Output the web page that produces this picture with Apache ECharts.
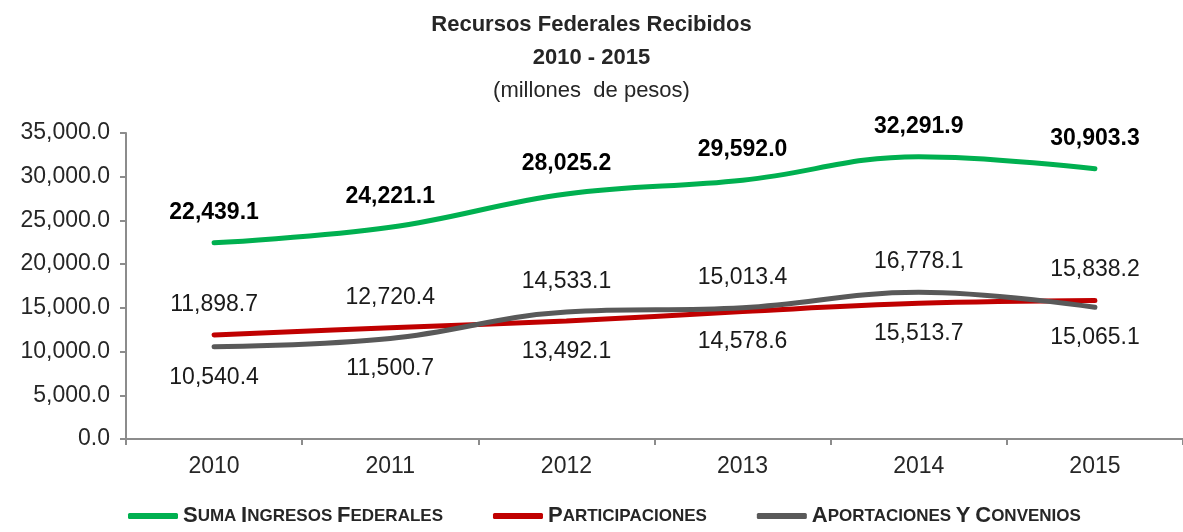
<!DOCTYPE html>
<html>
<head>
<meta charset="utf-8">
<script src="https://cdn.jsdelivr.net/npm/echarts@6/dist/echarts.min.js"></script>
<style>
  html, body { margin: 0; padding: 0; background: #fff; }
  #main { width: 1183px; height: 532px; }
</style>
</head>
<body>
<div id="main"></div>
<script>
// datos del grafico
var years = ["2010", "2011", "2012", "2013", "2014", "2015"];
var suma = [22439.1, 24221.1, 28025.2, 29592.0, 32291.9, 30903.3];
var participaciones = [11898.7, 12720.4, 13492.1, 14578.6, 15513.7, 15838.2];
var aportaciones = [10540.4, 11500.7, 14533.1, 15013.4, 16778.1, 15065.1];
var seriesNames = ["Suma Ingresos Federales", "Participaciones", "Aportaciones y Convenios"];

var chart = echarts.init(document.getElementById("main"));

function fmt(v) {
  return Number(v).toLocaleString("en-US", { minimumFractionDigits: 1, maximumFractionDigits: 1 });
}

// small caps para la leyenda
function smallCaps(name) {
  return name.split(" ").map(function (w) {
    if (w.length === 1) return "{c|" + w.toUpperCase() + "}";
    return "{c|" + w[0].toUpperCase() + "}{s|" + w.slice(1).toUpperCase() + "}";
  }).join("{s| }");
}

// etiqueta arriba o abajo segun la otra serie
function labeled(values, other) {
  return values.map(function (v, i) {
    return { value: v, label: { position: v >= other[i] ? "top" : "bottom" } };
  });
}

var labelFont = {
  show: true,
  fontFamily: "Liberation Sans",
  fontSize: 23,
  color: "#1a1a1a",
  distance: 19,
  formatter: function (p) { return fmt(p.value); }
};

var option = {
  backgroundColor: "#fff",
  animation: false,
  title: {
    left: "center",
    top: 3,
    text: "{b|Recursos Federales Recibidos}\n{b|2010 - 2015}\n{n|(millones  de pesos)}",
    textStyle: {
      rich: {
        b: { fontFamily: "Liberation Sans", fontWeight: "bold", fontSize: 22, color: "#262626", lineHeight: 33 },
        n: { fontFamily: "Liberation Sans", fontWeight: "normal", fontSize: 22, color: "#262626", lineHeight: 34 }
      }
    }
  },
  legend: {
    left: 123,
    bottom: 0,
    itemWidth: 50,
    itemHeight: 6,
    itemGap: 50,
    icon: "roundRect",
    data: seriesNames,
    formatter: smallCaps,
    textStyle: {
      rich: {
        c: { fontFamily: "Liberation Sans", fontWeight: "bold", fontSize: 22, color: "#262626" },
        s: { fontFamily: "Liberation Sans", fontWeight: "bold", fontSize: 17, color: "#262626" }
      }
    }
  },
  grid: {
    left: 126,
    top: 133,
    width: 1060,
    height: 306
  },
  xAxis: {
    type: "category",
    data: years,
    boundaryGap: true,
    axisLine: { lineStyle: { color: "#8c8c8c", width: 2 } },
    axisTick: { show: true, length: 6, lineStyle: { color: "#8c8c8c", width: 2 } },
    axisLabel: { fontFamily: "Liberation Sans", fontSize: 23, color: "#262626", margin: 16 }
  },
  yAxis: {
    type: "value",
    min: 0,
    max: 35000,
    interval: 5000,
    splitLine: { show: false },
    axisLine: { show: true, lineStyle: { color: "#8c8c8c", width: 2 } },
    axisTick: { show: true, length: 6, lineStyle: { color: "#8c8c8c", width: 2 } },
    axisLabel: {
      fontFamily: "Liberation Sans",
      fontSize: 23,
      color: "#262626",
      margin: 16,
      formatter: function (v) { return fmt(v); }
    }
  },
  series: [
    {
      name: seriesNames[0],
      type: "line",
      smooth: 0.4,
      symbol: "circle",
      symbolSize: 0,
      lineStyle: { color: "#00b050", width: 5, cap: "round" },
      itemStyle: { color: "#00b050" },
      label: Object.assign({}, labelFont, { position: "top", fontWeight: "bold", color: "#000" }),
      data: suma,
      z: 3
    },
    {
      name: seriesNames[1],
      type: "line",
      smooth: 0.4,
      symbol: "circle",
      symbolSize: 0,
      lineStyle: { color: "#c00000", width: 5, cap: "round" },
      itemStyle: { color: "#c00000" },
      label: labelFont,
      data: labeled(participaciones, aportaciones),
      z: 2
    },
    {
      name: seriesNames[2],
      type: "line",
      smooth: 0.4,
      symbol: "circle",
      symbolSize: 0,
      lineStyle: { color: "#595959", width: 5, cap: "round" },
      itemStyle: { color: "#595959" },
      label: labelFont,
      data: labeled(aportaciones, participaciones),
      z: 3
    }
  ]
};

chart.setOption(option);
</script>
</body>
</html>
